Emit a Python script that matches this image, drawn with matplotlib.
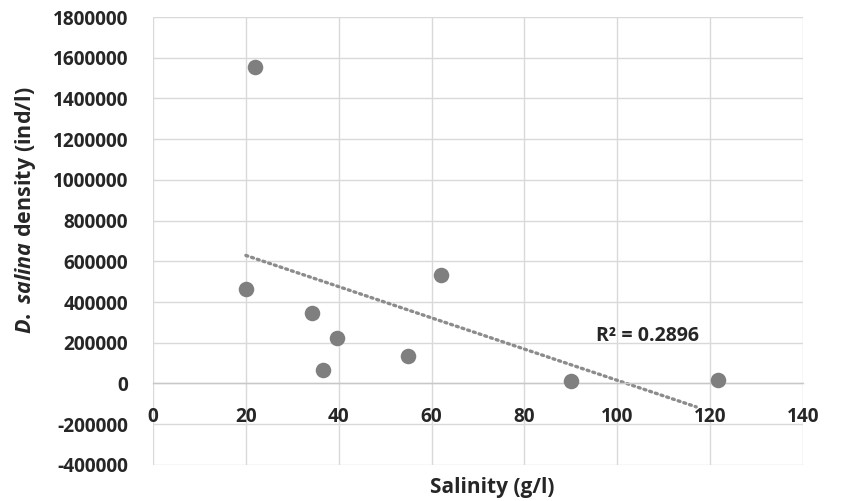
import numpy as np
import matplotlib.pyplot as plt

# -----------------------------
# Data
# -----------------------------
salinity = [20, 22, 34.2, 36.7, 39.7, 55, 62, 90, 121.7]
density = [465000, 1555000, 348000, 66000, 222000, 136000, 531000, 13000, 15000]
r2_label = "R² = 0.2896"
trend_end = 117          # where the dotted trendline stops

x_ticks = np.arange(0, 141, 20)
y_ticks = np.arange(-400000, 1800001, 200000)

plt.rcParams['font.family'] = 'Open Sans'
plt.rcParams['mathtext.fontset'] = 'custom'
plt.rcParams['mathtext.it'] = 'Open Sans:italic:bold'
plt.rcParams['mathtext.rm'] = 'Open Sans:bold'

grid_c = '#d9d9d9'
dot_c = '#7f7f7f'
txt_c = '#262626'

fig = plt.figure(figsize=(8.53, 5.01), dpi=100)
ax = fig.add_axes([0.1794, 0.072, 0.7620, 0.894])

# scatter
ax.scatter(salinity, density, s=125, color=dot_c, zorder=3, linewidths=0)

# linear trendline (least squares)
x = np.array(salinity)
y = np.array(density)
slope, icpt = np.polyfit(x, y, 1)
xt = np.linspace(x.min(), trend_end, 50)
ax.plot(xt, slope * xt + icpt, linestyle=(0, (0.6, 1.2)), color='#8c8c8c',
        linewidth=2.4, dash_capstyle='round', zorder=2)

ax.text(95.5, 232000, r2_label, fontsize=14, fontweight='bold',
        color=txt_c, va='center', ha='left')

# -----------------------------
# Formatting
# -----------------------------
ax.set_xlim(0, 140)
ax.set_ylim(-400000, 1800000)
ax.set_xticks(x_ticks)
ax.set_yticks(y_ticks)
ax.set_yticklabels([str(v) for v in y_ticks])

ax.grid(True, color=grid_c, linewidth=1.0, zorder=0)
ax.set_axisbelow(True)
for s in ['top', 'right', 'left']:
    ax.spines[s].set_visible(False)
ax.spines['bottom'].set_position(('data', 0))
ax.spines['bottom'].set_color('#c8c8c8')
ax.spines['bottom'].set_linewidth(1.0)

ax.tick_params(axis='both', length=0, labelsize=13.7, labelcolor=txt_c)
ax.tick_params(axis='x', pad=17)
ax.tick_params(axis='y', pad=18)
for lab in ax.get_xticklabels() + ax.get_yticklabels():
    lab.set_fontweight('bold')

fig.text(0.577, 0.026, 'Salinity (g/l)', fontsize=15, fontweight='bold',
         color=txt_c, ha='center', va='center')
fig.text(0.030, 0.581, r'$\mathit{D.}$ $\mathit{salina}$' + ' density (ind/l)',
         fontsize=15.5, fontweight='bold', color=txt_c,
         rotation=90, ha='center', va='center')

fig.savefig('out.png', dpi=100)
